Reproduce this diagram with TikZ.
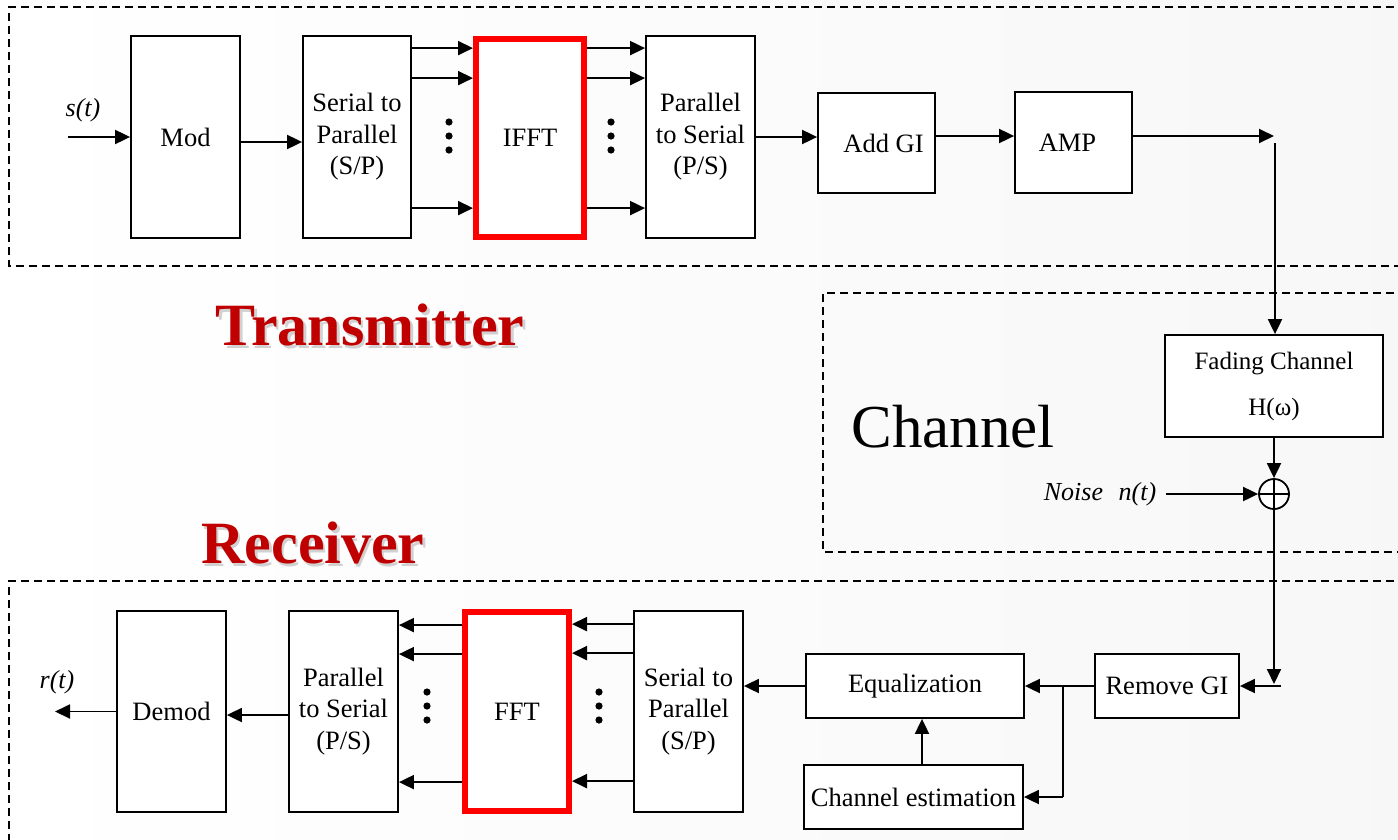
\documentclass[tikz,border=0pt]{standalone}
\usepackage{fontspec}
\setmainfont{Liberation Serif}
\usetikzlibrary{arrows.meta,calc}
\definecolor{titlered}{HTML}{C00000}
\begin{document}
\begin{tikzpicture}[x=1pt,y=-1pt,
 blk/.style={draw, line width=1.8pt, fill=white, inner sep=0pt, font=\fontsize{26.5}{31.5}\selectfont, align=center},
 redblk/.style={draw=red, line width=6pt, fill=white, inner sep=0pt, font=\fontsize{26.5}{31.5}\selectfont},
 arr/.style={line width=1.9pt, -{Triangle[length=15pt,width=14pt]}},
 plain/.style={line width=1.9pt},
 dbox/.style={line width=1.5pt, dash pattern=on 8pt off 5pt},
 lbl/.style={font=\fontsize{26}{30}\selectfont\itshape, inner sep=0pt},
 ttl/.style={font=\fontsize{60}{60}\selectfont\bfseries, text=titlered, inner sep=0pt},
 ttlshadow/.style={font=\fontsize{60}{60}\selectfont\bfseries, text=black!18, inner sep=0pt},
]
\useasboundingbox (0,0) rectangle (1398,839);
\shade[left color=white, right color=black!3] (0,0) rectangle (1398,839);

% dashed regions
\draw[dbox] (1420,7) -- (9,7) -- (9,266) -- (1420,266);
\draw[dbox] (1420,293) -- (823,293) -- (823,552) -- (1420,552);
\draw[dbox] (1420,581) -- (9,581) -- (9,860);

% titles
\node[ttlshadow] (txsh) at (372.5,327.5) {Transmitter};
\node[ttl] (tx) at (370,325) {Transmitter};
\node[ttlshadow] (rxsh) at (315.5,545.5) {Receiver};
\node[ttl] (rx) at (313,543) {Receiver};
\node[font=\fontsize{61}{61}\selectfont, inner sep=0pt] (chl) at (953,427) {Channel};

% transmitter blocks
\node[blk, minimum width=109pt, minimum height=202pt] (mod) at (185.5,137) {Mod};
\node[blk, minimum width=108pt, minimum height=202pt] (sp1) at (357,137) {Serial to\\Parallel\\(S/P)};
\node[redblk, minimum width=108pt, minimum height=198pt] (ifft) at (530,138) {IFFT};
\node[blk, minimum width=109pt, minimum height=202pt] (ps1) at (700.5,137) {Parallel\\to Serial\\(P/S)};
\node[blk, minimum width=117pt, minimum height=100pt] (addgi) at (876.5,143) {\hspace*{14pt}Add GI};
\node[blk, minimum width=117pt, minimum height=101pt] (amp) at (1073.5,142.5) {AMP\hspace*{12pt}};

% channel
\node[blk, minimum width=218pt, minimum height=102pt, font=\fontsize{25}{46}\selectfont] (fad) at (1274,386) {Fading Channel\\H(ω)};
\node[draw, circle, line width=1.8pt, minimum size=30pt, inner sep=0pt, fill=white,
  path picture={\draw[line width=1.8pt] (path picture bounding box.north) -- (path picture bounding box.south)
  (path picture bounding box.west) -- (path picture bounding box.east);}] (sum) at (1274,494) {};
\node[lbl] (noise) at (1100,494) {Noise\hspace{0.6em}n(t)};

% receiver blocks
\node[blk, minimum width=109pt, minimum height=201pt] (demod) at (171.5,711.5) {Demod};
\node[blk, minimum width=109pt, minimum height=201pt] (ps2) at (343.5,711.5) {Parallel\\to Serial\\(P/S)};
\node[redblk, minimum width=104pt, minimum height=199pt] (fft) at (517,711.5) {FFT};
\node[blk, minimum width=109pt, minimum height=201pt] (sp2) at (688.5,711.5) {Serial to\\Parallel\\(S/P)};
\node[blk, minimum width=218pt, minimum height=64pt] (eq) at (915,686) {Equalization};
\node[blk, minimum width=144pt, minimum height=64pt] (rgi) at (1167,686) {Remove GI};
\node[blk, minimum width=219pt, minimum height=64pt] (ce) at (913.5,797) {Channel estimation};

% labels
\node[lbl] (st) at (83,110) {s(t)};
\node[lbl] (rtl) at (57,682) {r(t)};

% coordinates
\coordinate (sin) at (68,137);
\coordinate (tp) at (1274,136);
\coordinate (tq) at (1275,143);
\coordinate (rp) at (1274,684);
\coordinate (rq) at (1281,686);
\coordinate (nz) at (1166,494);
\coordinate (j) at (1063,686);
\coordinate (rout) at (55,711);
\coordinate (m1) at (240,142);
\coordinate (g1) at (935,136);
\coordinate (ce1) at (922,765);
\coordinate (p2) at (289,715);

% transmitter connectors
\draw[arr] (sin) -- (sin -| mod.west);
\draw[arr] (m1 -| mod.east) -- (m1 -| sp1.west);
\foreach \o [count=\i] in {13,43,173}{
  \coordinate (a\i) at ($(sp1.north east)+(0,\o)$);
  \draw[arr] (a\i) -- (a\i -| ifft.west);
  \coordinate (b\i) at ($(ps1.north west)+(0,\o)$);
  \draw[arr] (b\i -| ifft.east) -- (b\i);
}
\draw[arr] (ps1.east) -- (ps1.east -| addgi.west);
\draw[arr] (g1 -| addgi.east) -- (g1 -| amp.west);
\draw[arr] (tp -| amp.east) -- (tp);
\draw[arr] (tq) -- (tq |- fad.north);

% channel connectors
\draw[arr] (fad.south) -- (sum.north);
\draw[arr] (nz) -- (sum.west);
\draw[arr] (sum.south) -- (rp);
\draw[arr] (rq) -- (rq -| rgi.east);

% receiver connectors
\draw[arr] (rgi.west) -- (rgi.west -| eq.east);
\draw[plain] (j) -- ++(0,111) coordinate (jb);
\draw[arr] (jb) -- (jb -| ce.east);
\draw[arr] (ce1 |- ce.north) -- (ce1 |- eq.south);
\draw[arr] (eq.west) -- (eq.west -| sp2.east);
\foreach \o [count=\i] in {14,43,171}{
  \coordinate (c\i) at ($(sp2.north west)+(0,\o)$);
  \draw[arr] (c\i) -- (c\i -| fft.east);
  \coordinate (d\i) at ($(ps2.north east)+(0,\o+1)$);
  \draw[arr] (d\i -| fft.west) -- (d\i);
}
\draw[arr] (p2 -| ps2.west) -- (p2 -| demod.east);
\draw[arr] (demod.west) -- (demod.west -| rout);

% dots
\foreach \x/\y in {449/122,449/136,449/150,611/122,611/136,611/150,427/692,427/706,427/720,599/692,599/706,599/720}{
  \fill (\x,\y) circle[radius=3.6pt];
}
\end{tikzpicture}
\end{document}
